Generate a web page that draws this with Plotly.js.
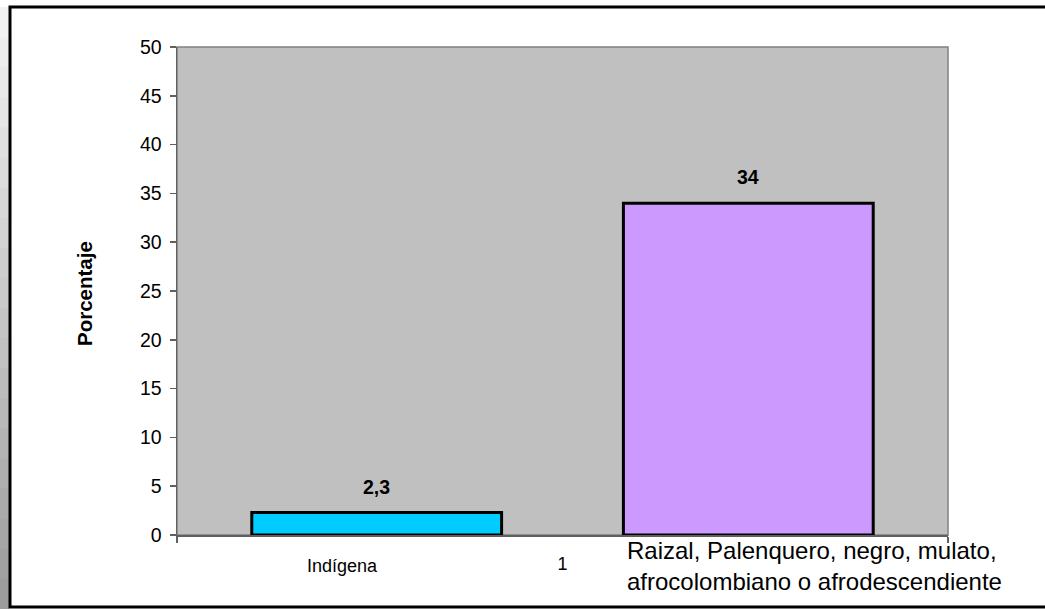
<!DOCTYPE html>
<html>
<head>
<meta charset="utf-8">
<script src="https://cdn.plot.ly/plotly-3.0.1.min.js"></script>
<style>html,body{margin:0;padding:0;background:#fff;}#chart{width:1045px;height:609px;}</style>
</head>
<body>
<div id="chart"></div>
<script>
// Data
const categories = ["Indígena", "Raizal, Palenquero, negro, mulato,<br>afrocolombiano o afrodescendiente"];
const values = [2.3, 34];
const barColors = ["#00ccff", "#cc99ff"];
const xTickLabels = ["1"];
const yTitle = "Porcentaje";

// Layout helpers (positions/styles)
const barX = [0.259, 0.741];
const barW = 0.324;
const W = 1045, H = 609, L = 177, R = 97, T = 47, B = 74;
const pw = W - L - R, ph = H - T - B;
const px = v => (v - L) / pw;
const py = v => (H - B - v) / ph;
const FONT = "Liberation Sans, Arial, sans-serif";

const trace = {
  type: "bar",
  x: barX,
  y: values,
  width: barW,
  marker: { color: barColors, line: { color: "#000000", width: 3 } },
  hoverinfo: "skip"
};

const annotations = [];
values.forEach((v, i) => {
  annotations.push({
    x: barX[i], y: v, xref: "x", yref: "y",
    text: "<b>" + String(v).replace(".", ",") + "</b>",
    showarrow: false, yanchor: "bottom", yshift: 13,
    font: { family: FONT, size: 19.5, color: "#000" }
  });
});
annotations.push({
  x: px(342), y: py(566), xref: "paper", yref: "paper",
  text: categories[0], showarrow: false, xanchor: "center", yanchor: "middle",
  font: { family: FONT, size: 18, color: "#000" }
});
annotations.push({
  x: px(625), y: py(535), xref: "paper", yref: "paper",
  text: categories[1], showarrow: false, xanchor: "left", yanchor: "top", align: "left",
  font: { family: FONT, size: 24, color: "#000" }
});
annotations.push({
  x: px(84), y: py(294), xref: "paper", yref: "paper",
  text: "<b>" + yTitle + "</b>", showarrow: false, textangle: -90,
  xanchor: "center", yanchor: "middle",
  font: { family: FONT, size: 20.5, color: "#000" }
});

const shapes = [];
// left shadow (gradient approximation)
const shadeSteps = 20;
for (let k = 0; k < shadeSteps; k++) {
  const y0 = 7 + k * (602 / shadeSteps), y1 = 7 + (k + 1) * (602 / shadeSteps) + 1.5;
  const g = Math.round(242 - k * (90 / shadeSteps));
  const c = "rgb(" + g + "," + g + "," + g + ")";
  shapes.push({ type: "rect", xref: "paper", yref: "paper", layer: "below",
    x0: px(0), x1: px(9), y0: py(y1), y1: py(y0), fillcolor: c, line: { width: 0 } });
}
// outer frame
shapes.push({ type: "rect", xref: "paper", yref: "paper", layer: "above",
  x0: px(10), x1: px(1060), y0: py(607), y1: py(7), line: { color: "#000", width: 3 } });
// plot area border
shapes.push({ type: "rect", xref: "paper", yref: "paper", layer: "below",
  x0: 0, x1: 1, y0: 0, y1: 1, line: { color: "#808080", width: 1.5 } });

const layout = {
  width: W, height: H,
  margin: { l: L, r: R, t: T, b: B, pad: 0 },
  paper_bgcolor: "#ffffff",
  plot_bgcolor: "#c0c0c0",
  showlegend: false,
  font: { family: FONT, size: 19, color: "#000" },
  xaxis: {
    range: [0, 1], fixedrange: true,
    tickmode: "array", tickvals: [0.5], ticktext: xTickLabels,
    ticks: "", showgrid: false, zeroline: false,
    showline: true, linecolor: "#606060", linewidth: 1.5,
    tickfont: { family: FONT, size: 18, color: "#000" },
    ticklabelstandoff: 12,
    minor: { tickmode: "array", tickvals: [0, 1], ticks: "outside", ticklen: 6, tickcolor: "#606060", tickwidth: 1.5, showgrid: false }
  },
  yaxis: {
    range: [0, 50], fixedrange: true,
    tickmode: "linear", tick0: 0, dtick: 5,
    ticks: "outside", ticklen: 6, tickcolor: "#606060", tickwidth: 1.5,
    showgrid: false, zeroline: false,
    showline: true, linecolor: "#606060", linewidth: 1.5,
    tickfont: { family: FONT, size: 19.5, color: "#000" },
    ticklabelstandoff: 4
  },
  annotations: annotations,
  shapes: shapes
};

Plotly.newPlot("chart", [trace], layout, { displayModeBar: false, staticPlot: true });
</script>
</body>
</html>
